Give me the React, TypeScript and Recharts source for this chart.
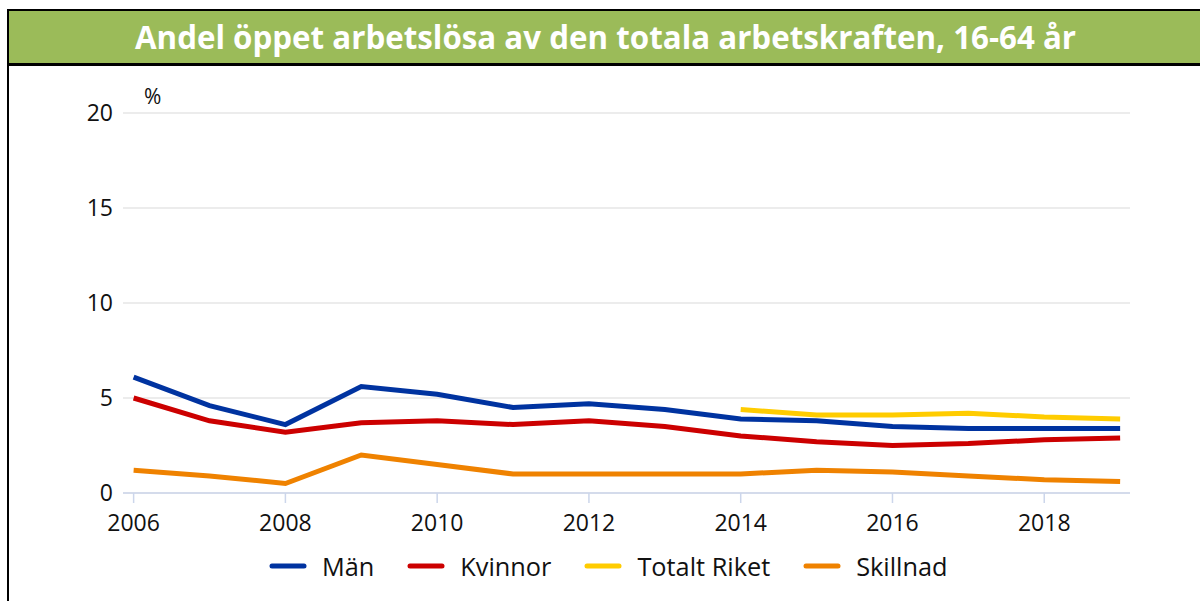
import { LineChart, Line, XAxis, YAxis, CartesianGrid, Legend } from "recharts";

const years = [2006, 2007, 2008, 2009, 2010, 2011, 2012, 2013, 2014, 2015, 2016, 2017, 2018, 2019];
const man = [6.1, 4.6, 3.6, 5.6, 5.2, 4.5, 4.7, 4.4, 3.9, 3.8, 3.5, 3.4, 3.4, 3.4];
const kvinnor = [5.0, 3.8, 3.2, 3.7, 3.8, 3.6, 3.8, 3.5, 3.0, 2.7, 2.5, 2.6, 2.8, 2.9];
const totalt = [null, null, null, null, null, null, null, null, 4.4, 4.1, 4.1, 4.2, 4.0, 3.9];
const skillnad = [1.2, 0.9, 0.5, 2.0, 1.5, 1.0, 1.0, 1.0, 1.0, 1.2, 1.1, 0.9, 0.7, 0.6];
const seriesOrder = ["Män", "Kvinnor", "Totalt Riket", "Skillnad"];
const xTicks = [2006, 2008, 2010, 2012, 2014, 2016, 2018];
const yTicks = [0, 5, 10, 15, 20];

const data = years.map((year, i) => ({
  year,
  man: man[i],
  kvinnor: kvinnor[i],
  totalt: totalt[i],
  skillnad: skillnad[i],
}));

const font = '"Open Sans", sans-serif';

const LegendContent = ({ payload }: any) => {
  const items = [...(payload || [])].sort(
    (a: any, b: any) => seriesOrder.indexOf(a.value) - seriesOrder.indexOf(b.value)
  );
  return (
    <div style={{ display: "flex", alignItems: "center", fontFamily: font, fontSize: 25.3, lineHeight: "32px", color: "#111" }}>
      {items.map((p: any) => (
        <div key={p.value} style={{ display: "flex", alignItems: "center", marginRight: 33 }}>
          <svg width={38} height={8} style={{ marginRight: 15 }}>
            <line x1={3} y1={4} x2={35} y2={4} stroke={p.color} strokeWidth={5} strokeLinecap="round" />
          </svg>
          <span>{p.value}</span>
        </div>
      ))}
    </div>
  );
};

const App = () => {
  return (
    <div style={{ position: "absolute", left: 0, top: 0, width: 1200, height: 601, background: "#fff", overflow: "hidden" }}>
      <div
        style={{
          position: "absolute",
          left: 7,
          top: 9,
          width: 1193,
          height: 52,
          background: "#9bbb59",
          borderTop: "2px solid #000",
          borderLeft: "2px solid #000",
          borderBottom: "3px solid #000",
          display: "flex",
          alignItems: "center",
          justifyContent: "center",
          color: "#fff",
          fontFamily: font,
          fontWeight: "bold",
          fontSize: 31.3,
        }}
      >
        Andel öppet arbetslösa av den totala arbetskraften, 16-64 år
      </div>
      <div style={{ position: "absolute", left: 7, top: 9, width: 2, height: 592, background: "#000" }} />
      <div style={{ position: "absolute", left: 144, top: 82, fontFamily: font, fontSize: 21, color: "#111" }}>%</div>
      <LineChart
        width={1200}
        height={601}
        data={data}
        margin={{ top: 113, right: 70, bottom: 46, left: 63 }}
        style={{ position: "absolute", left: 0, top: 0 }}
      >
        <CartesianGrid horizontal vertical={false} stroke="#e6e6e6" strokeWidth={1.5} />
        <XAxis
          dataKey="year"
          type="number"
          domain={[2005.86, 2019.13]}
          ticks={xTicks}
          allowDataOverflow
          stroke="#ccd6eb"
          strokeWidth={1.5}
          tickSize={10}
          tickMargin={12}
          tick={{ fill: "#111", fontSize: 23, fontFamily: font }}
          height={30}
        />
        <YAxis
          domain={[0, 20]}
          ticks={yTicks}
          width={60}
          axisLine={false}
          tickLine={false}
          tickSize={0}
          tickMargin={10}
          tick={{ fill: "#111", fontSize: 23, fontFamily: font }}
        />
        <Line dataKey="man" name="Män" stroke="#0033a0" strokeWidth={5} dot={false} isAnimationActive={false} />
        <Line dataKey="kvinnor" name="Kvinnor" stroke="#cc0000" strokeWidth={5} dot={false} isAnimationActive={false} />
        <Line dataKey="totalt" name="Totalt Riket" stroke="#ffcc00" strokeWidth={5} dot={false} isAnimationActive={false} />
        <Line dataKey="skillnad" name="Skillnad" stroke="#ef8200" strokeWidth={5} dot={false} isAnimationActive={false} />
        <Legend
          content={<LegendContent />}
          wrapperStyle={{ position: "absolute", left: 269, top: 550, width: "auto", height: "auto" }}
        />
      </LineChart>
    </div>
  );
};

export default App;
